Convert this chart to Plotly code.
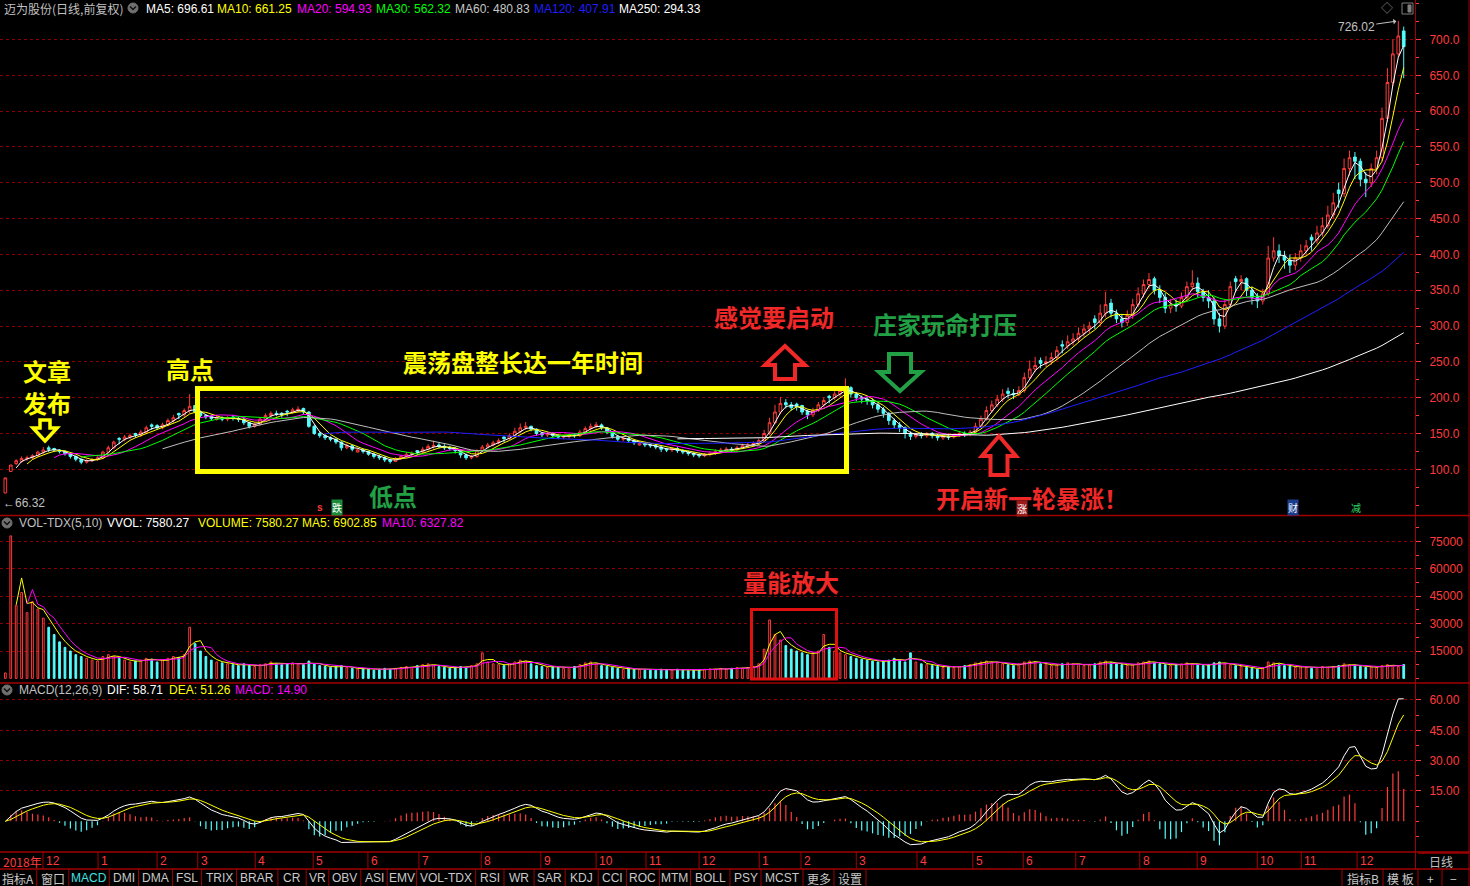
import numpy as np
import pandas as pd
import plotly.graph_objects as go

W, H = 1470, 886
PR = 1415  # right edge of the plotting area in px

# ---------------- data (each candle = 2 trading days) ----------------
opens = [
    67, 97, 108, 111, 115, 116, 119, 124, 130, 129,
    127, 125, 122, 118, 114, 110, 112, 114, 116, 124,
    130, 143, 142, 145, 150, 148, 152, 162, 161, 158,
    162, 168, 178, 176, 182, 189, 180, 175, 174, 170,
    172, 170, 173, 171, 170, 165, 160, 163, 170, 175,
    178, 178, 181, 180, 182, 185, 180, 160, 150, 147,
    144, 142, 138, 130, 133, 124, 127, 125, 121, 118,
    116, 113, 111, 115, 118, 121, 126, 124, 128, 132,
    134, 132, 130, 129, 126, 120, 116, 118, 126, 131,
    134, 137, 145, 143, 147, 153, 158, 160, 156, 150,
    148, 150, 147, 145, 146, 148, 147, 152, 157, 160,
    162, 158, 152, 146, 142, 143, 140, 134, 136, 134,
    133, 131, 128, 127, 129, 126, 124, 122, 120, 119,
    121, 122, 125, 127, 128, 127, 130, 133, 134, 136,
    140, 150, 165, 180, 193, 190, 191, 189, 181, 176,
    182, 190, 202, 200, 205, 210, 214, 205, 200, 198,
    196, 190, 184, 178, 168, 162, 158, 150, 146, 149,
    147, 150, 147, 144, 146, 145, 148, 150, 149, 152,
    160, 170, 182, 190, 198, 209, 206, 204, 210, 228,
    240, 252, 248, 250, 256, 274, 272, 278, 282, 290,
    296, 310, 305, 318, 332, 318, 310, 305, 315, 330,
    345, 358, 366, 350, 340, 325, 330, 328, 340, 355,
    360, 348, 340, 335, 310, 300, 330, 366, 362, 366,
    350, 340, 335, 345, 395, 405, 398, 392, 385, 395,
    405, 424, 420, 430, 440, 455, 490, 485, 520, 536,
    530, 505, 500, 520, 535, 590, 640, 680, 712,
]
highs = [
    88, 106, 114, 118, 119, 121, 126, 131, 133, 130,
    128, 126, 123, 119, 115, 114, 116, 118, 126, 133,
    140, 145, 148, 150, 151, 155, 161, 164, 163, 165,
    171, 176, 179, 185, 205, 190, 182, 177, 176, 175,
    174, 174, 176, 173, 172, 166, 165, 173, 178, 181,
    182, 180, 183, 186, 188, 186, 181, 162, 153, 149,
    146, 143, 139, 136, 134, 130, 129, 126, 123, 120,
    118, 115, 117, 120, 124, 125, 127, 131, 135, 140,
    137, 135, 133, 131, 127, 122, 120, 128, 134, 137,
    140, 143, 146, 150, 158, 164, 166, 161, 157, 152,
    152, 152, 149, 148, 150, 150, 155, 160, 164, 166,
    164, 159, 153, 148, 146, 145, 142, 139, 138, 136,
    135, 133, 130, 131, 131, 128, 126, 124, 122, 123,
    125, 128, 130, 131, 131, 133, 136, 137, 139, 143,
    155, 172, 190, 201, 198, 194, 193, 190, 183, 186,
    194, 200, 204, 209, 215, 227, 216, 208, 203, 201,
    199, 193, 187, 180, 171, 166, 160, 153, 151, 152,
    152, 152, 149, 148, 149, 150, 153, 153, 155, 165,
    175, 188, 196, 204, 212, 214, 212, 216, 235, 252,
    257, 256, 258, 263, 272, 280, 287, 290, 298, 303,
    306, 315, 330, 348, 338, 323, 317, 322, 338, 354,
    365, 374, 369, 357, 346, 338, 337, 347, 362, 378,
    368, 352, 350, 340, 318, 338, 362, 370, 371, 368,
    355, 346, 352, 412, 424, 414, 405, 400, 402, 414,
    420, 428, 440, 452, 468, 486, 500, 534, 545, 543,
    534, 515, 527, 545, 605, 660, 700, 726.02, 718,
]
lows = [
    66.32, 97, 106, 109, 112, 114, 117, 121, 124, 124,
    122, 119, 115, 111, 107, 108, 110, 112, 114, 122,
    128, 135, 139, 142, 144, 145, 149, 155, 155, 156,
    160, 165, 170, 173, 178, 178, 172, 170, 168, 168,
    167, 167, 168, 166, 162, 157, 158, 161, 167, 172,
    174, 172, 174, 178, 180, 177, 158, 148, 144, 141,
    139, 135, 126, 128, 125, 124, 122, 119, 115, 113,
    110, 108, 110, 113, 116, 118, 120, 122, 126, 129,
    129, 127, 126, 122, 116, 113, 114, 116, 124, 129,
    132, 135, 138, 141, 145, 150, 155, 153, 147, 145,
    145, 144, 142, 142, 143, 144, 145, 149, 154, 157,
    155, 149, 143, 139, 139, 137, 134, 133, 131, 130,
    128, 124, 124, 124, 123, 121, 119, 117, 116, 117,
    118, 120, 123, 124, 124, 125, 128, 130, 132, 134,
    138, 148, 163, 177, 185, 182, 182, 176, 170, 173,
    180, 187, 192, 197, 201, 205, 200, 195, 192, 190,
    185, 179, 172, 162, 157, 152, 143, 141, 143, 143,
    144, 143, 140, 141, 141, 143, 145, 145, 146, 150,
    158, 168, 179, 187, 194, 199, 198, 202, 207, 225,
    236, 241, 243, 246, 252, 262, 268, 273, 278, 285,
    290, 296, 300, 312, 312, 304, 298, 300, 310, 326,
    340, 352, 344, 332, 318, 318, 320, 325, 336, 350,
    340, 334, 325, 302, 291, 296, 326, 348, 350, 342,
    330, 325, 330, 342, 390, 388, 380, 374, 378, 390,
    398, 405, 415, 425, 436, 450, 465, 480, 510, 505,
    495, 480, 494, 512, 530, 585, 635, 675, 646,
]
closes = [
    88, 106, 112, 115, 116, 119, 124, 127, 128, 127,
    125, 122, 118, 114, 110, 112, 114, 116, 124, 130,
    138, 142, 145, 147, 148, 152, 158, 160, 158, 162,
    168, 172, 176, 182, 188, 180, 175, 173, 171, 172,
    170, 172, 171, 170, 165, 160, 163, 170, 175, 178,
    177, 176, 180, 183, 184, 180, 160, 150, 147, 144,
    142, 138, 130, 133, 128, 127, 125, 121, 118, 116,
    113, 111, 115, 118, 121, 122, 124, 128, 132, 133,
    132, 130, 129, 126, 120, 116, 118, 126, 131, 134,
    137, 140, 143, 147, 153, 158, 160, 156, 150, 148,
    150, 147, 145, 146, 148, 147, 152, 157, 160, 162,
    158, 152, 146, 142, 143, 140, 137, 136, 134, 133,
    131, 128, 127, 129, 126, 124, 122, 120, 119, 121,
    122, 125, 127, 128, 127, 130, 133, 134, 136, 140,
    150, 165, 180, 192, 190, 186, 188, 180, 176, 182,
    190, 196, 200, 205, 210, 214, 205, 200, 198, 196,
    190, 184, 178, 168, 162, 158, 150, 146, 149, 147,
    150, 147, 144, 146, 145, 148, 150, 149, 152, 160,
    170, 182, 190, 198, 205, 206, 204, 210, 228, 240,
    245, 248, 250, 256, 266, 272, 278, 282, 290, 296,
    300, 305, 318, 330, 318, 310, 305, 315, 330, 345,
    358, 365, 350, 340, 325, 330, 328, 340, 355, 360,
    348, 340, 335, 310, 300, 330, 355, 362, 365, 350,
    340, 335, 345, 395, 405, 398, 392, 385, 395, 405,
    412, 420, 430, 440, 455, 472, 485, 520, 535, 530,
    505, 500, 520, 535, 590, 640, 680, 705, 690,
]
volumes = [
    3000, 78000, 40000, 47000, 36000, 42000, 38000, 33000, 28000, 24000,
    20000, 17000, 15000, 13000, 12000, 11000, 10000, 9500, 12000, 13000,
    12000, 11000, 10000, 9000, 9500, 10000, 11000, 10500, 9000, 10000,
    11000, 12000, 11500, 13000, 28000, 19000, 15000, 12000, 10000, 9000,
    8500, 8000, 7500, 7000, 8000, 7000, 6500, 7500, 8000, 9000,
    8000, 7500, 8000, 8500, 8000, 7500, 9500, 8000, 7000, 6500,
    6000, 6500, 7000, 6000, 5500, 5000, 5500, 5000, 4500, 5000,
    5500, 5000, 5500, 6000, 6500, 6000, 7000, 7500, 8000, 7000,
    6500, 6000, 5500, 6000, 6500, 6000, 7000, 8000, 14000, 9000,
    8000, 7500, 7000, 8000, 9000, 10000, 9500, 8000, 7000, 6500,
    6000, 6500, 6000, 5500, 6000, 6500, 7500, 8500, 9000, 8000,
    7000, 6500, 6000, 5500, 5000, 5500, 5000, 4800, 4500, 4800,
    4500, 5000, 4800, 4500, 5000, 4500, 4200, 4500, 4800, 5000,
    5200, 5000, 5500, 5000, 5500, 6000, 5500, 6000, 6500, 8000,
    16000, 32000, 24000, 21000, 18000, 16000, 15000, 14000, 13000, 14000,
    15000, 24000, 17000, 15000, 14000, 13000, 12000, 11000, 10500, 10000,
    9500, 9000, 9500, 10000, 11000, 10000, 9000, 14000, 9000, 8000,
    7500, 7000, 6500, 6000, 6500, 6000, 6500, 7000, 7500, 8500,
    9000, 9500, 9000, 8500, 8000, 7500, 7000, 8000, 9000, 9500,
    9000, 8000, 7500, 7000, 7500, 8000, 8500, 8000, 7500, 7000,
    7500, 8000, 9000, 9500, 8500, 8000, 7500, 7000, 7500, 8500,
    9000, 9500, 8500, 8000, 7500, 7000, 7500, 8000, 8500, 8000,
    7500, 7000, 7500, 8500, 9000, 8000, 7500, 7000, 6500, 6000,
    5500, 5000, 6000, 9000, 8500, 7500, 7000, 6500, 6000, 6500,
    6000, 5500, 6000, 6500, 6000, 6500, 7000, 8000, 7500, 7000,
    6500, 6000, 6500, 6000, 7000, 7500, 7000, 6500, 7580,
]

# month ticks of the date bar (position in candle units) and their labels
month_pos = [6.95, 17.1, 28.0, 35.5, 46.1, 56.8, 66.9, 76.3, 87.8, 98.8, 109.0, 118.2, 128.0,
             139.1, 146.8, 157.0, 168.2, 178.5, 187.8, 197.5, 209.3, 219.9, 231.0, 239.1, 249.4]
month_labels = ["12", "1", "2", "3", "4", "5", "6", "7", "8", "9", "10", "11", "12",
                "1", "2", "3", "4", "5", "6", "7", "8", "9", "10", "11", "12"]

price_ticks = list(range(100, 701, 50))
vol_ticks = [15000, 30000, 45000, 60000, 75000]
macd_ticks = [15, 30, 45, 60]

ma_names = ["MA5", "MA10", "MA20", "MA30", "MA60", "MA120", "MA250"]
ma_days = [5, 10, 20, 30, 60, 120, 250]
ma_header_vals = [696.61, 661.25, 594.93, 562.32, 480.83, 407.91, 294.33]
vol_header_vals = [7580.27, 7580.27, 6902.85, 6327.82]
macd_header_vals = [58.71, 51.26, 14.90]

tab_labels = ["指标A", "窗口", "MACD", "DMI", "DMA", "FSL", "TRIX", "BRAR", "CR", "VR", "OBV", "ASI",
              "EMV", "VOL-TDX", "RSI", "WR", "SAR", "KDJ", "CCI", "ROC", "MTM", "BOLL", "PSY", "MCST",
              "更多", "设置"]

# ---------------- styling ----------------
DAYS_PER_BAR = 2
RED = "#FF3B3B"
SEP = "#A00000"
GRID = "#8C0000"
CYAN = "#54FCFC"
GREY = "#C0C0C0"
FONT = "Liberation Sans, Arial, Noto Sans CJK SC, sans-serif"
CJK = "Noto Sans CJK SC, sans-serif"
ma_colors = ["#FFFFFF", "#FFFF00", "#FF00FF", "#00FF00", "#BEBEBE", "#1E1EFF", "#FFFFFF"]

n = len(closes)
idx = list(range(n))
cs = pd.Series(closes, dtype=float)


def win(days):
    return int(np.ceil(days / DAYS_PER_BAR))


def ema_alpha(days):
    return 1 - (1 - 2.0 / (days + 1)) ** DAYS_PER_BAR


fig = go.Figure()

# ---- price panel ----
fig.add_trace(go.Candlestick(
    x=idx, open=opens, high=highs, low=lows, close=closes,
    increasing=dict(line=dict(color=RED, width=1), fillcolor="#000000"),
    decreasing=dict(line=dict(color=CYAN, width=1), fillcolor=CYAN),
    whiskerwidth=0, hoverinfo="skip", showlegend=False, xaxis="x", yaxis="y"))
for name, d, col in zip(ma_names, ma_days, ma_colors):
    fig.add_trace(go.Scatter(x=idx, y=cs.rolling(win(d)).mean(), mode="lines",
                             line=dict(color=col, width=1), hoverinfo="skip",
                             showlegend=False, xaxis="x", yaxis="y"))

# ---- volume panel ----
up = [c >= o for o, c in zip(opens, closes)]
fig.add_trace(go.Bar(
    x=idx, y=volumes, width=0.32,
    marker=dict(color=["rgba(0,0,0,0)" if u else CYAN for u in up],
                line=dict(color=[RED if u else CYAN for u in up], width=1)),
    hoverinfo="skip", showlegend=False, xaxis="x", yaxis="y2"))
vs = pd.Series(volumes, dtype=float)
for d, col in [(5, "#FFFF00"), (10, "#FF00FF")]:
    fig.add_trace(go.Scatter(x=idx, y=vs.rolling(win(d)).mean(), mode="lines",
                             line=dict(color=col, width=1), hoverinfo="skip",
                             showlegend=False, xaxis="x", yaxis="y2"))

# ---- MACD panel ----
ema_fast = cs.ewm(alpha=ema_alpha(12), adjust=False).mean()
ema_slow = cs.ewm(alpha=ema_alpha(26), adjust=False).mean()
dif = ema_fast - ema_slow
dea = dif.ewm(alpha=ema_alpha(9), adjust=False).mean()
macd = 2 * (dif - dea)
fig.add_trace(go.Bar(x=idx, y=macd, width=0.22,
                     marker=dict(color=[RED if v >= 0 else CYAN for v in macd], line=dict(width=0)),
                     hoverinfo="skip", showlegend=False, xaxis="x", yaxis="y3"))
fig.add_trace(go.Scatter(x=idx, y=dif, mode="lines", line=dict(color="#FFFFFF", width=1),
                         hoverinfo="skip", showlegend=False, xaxis="x", yaxis="y3"))
fig.add_trace(go.Scatter(x=idx, y=dea, mode="lines", line=dict(color="#FFFF00", width=1),
                         hoverinfo="skip", showlegend=False, xaxis="x", yaxis="y3"))


# ---------------- axes ----------------
def yax(dom_px, rng, tickvals, fmt, minor_dtick):
    return dict(
        domain=[1 - dom_px[1] / H, 1 - dom_px[0] / H], range=rng, side="right", anchor="x",
        tickmode="array", tickvals=tickvals, ticktext=[format(v, fmt) for v in tickvals],
        tickfont=dict(color=RED, size=12, family=FONT), ticks="outside", ticklen=5,
        tickcolor=RED, ticklabelstandoff=6, showline=True, linecolor=SEP, linewidth=1,
        showgrid=True, gridcolor=GRID, griddash="dot", gridwidth=1, zeroline=False,
        fixedrange=True,
        minor=dict(ticks="outside", ticklen=3, tickcolor=RED, dtick=minor_dtick, showgrid=False))


x_lo = -5.35 / 5.42
x_hi = (PR - 5.35) / 5.42

fig.update_layout(
    width=W, height=H, margin=dict(l=0, r=0, t=0, b=0),
    paper_bgcolor="#000000", plot_bgcolor="#000000", showlegend=False,
    barmode="overlay",
    xaxis=dict(domain=[0, PR / W], range=[x_lo, x_hi], visible=False,
               rangeslider=dict(visible=False), fixedrange=True),
    yaxis=yax((2, 515), [36.2, 752.4], price_ticks, ".1f", 25),
    yaxis2=yax((517, 682), [-1971, 88357], vol_ticks, "d", 7500),
    yaxis3=yax((685, 851), [-14.69, 67.41], macd_ticks, ".2f", 7.5),
)

# ---------------- helpers for decorations ----------------
def px(x):
    return x / W


def py(y):
    return 1 - y / H


annotations = []
shapes = []


def text(x, y, s, color, size=12, family=FONT, anchor="left", bold=False, bg=None):
    d = dict(xref="paper", yref="paper", x=px(x), y=py(y), text=("<b>%s</b>" % s) if bold else s,
             showarrow=False, xanchor=anchor, yanchor="middle",
             font=dict(color=color, size=size, family=family))
    if bg:
        d.update(bgcolor=bg, borderpad=0)
    annotations.append(d)


def line(x0, y0, x1, y1, color=SEP, width=1):
    shapes.append(dict(type="line", xref="paper", yref="paper", x0=px(x0), y0=py(y0),
                       x1=px(x1), y1=py(y1), line=dict(color=color, width=width)))


def rect(x0, y0, x1, y1, color, width, fill="rgba(0,0,0,0)"):
    shapes.append(dict(type="rect", xref="paper", yref="paper", x0=px(x0), y0=py(y0),
                       x1=px(x1), y1=py(y1), line=dict(color=color, width=width), fillcolor=fill))


def arrow(cx, top, bottom, w, shaft, head, color, width, down=False):
    if not down:
        pts = [(cx, top), (cx + w / 2, top + head), (cx + shaft / 2, top + head),
               (cx + shaft / 2, bottom), (cx - shaft / 2, bottom), (cx - shaft / 2, top + head),
               (cx - w / 2, top + head)]
    else:
        pts = [(cx, bottom), (cx + w / 2, bottom - head), (cx + shaft / 2, bottom - head),
               (cx + shaft / 2, top), (cx - shaft / 2, top), (cx - shaft / 2, bottom - head),
               (cx - w / 2, bottom - head)]
    path = "M " + " L ".join("%.5f,%.5f" % (px(a), py(b)) for a, b in pts) + " Z"
    shapes.append(dict(type="path", xref="paper", yref="paper", path=path,
                       line=dict(color=color, width=width), fillcolor="#000000"))


# ---------------- headers ----------------
text(2, 9, "迈为股份(日线,前复权)", GREY, size=12, family=CJK)
ma_x = [144, 215, 295, 374, 453, 532, 617]
hdr_cols = ["#FFFFFF", "#FFFF00", "#FF00FF", "#00FF00", "#C8C8C8", "#1E1EFF", "#FFFFFF"]
for xx, nm, v, c in zip(ma_x, ma_names, ma_header_vals, hdr_cols):
    text(xx, 9, "%s: %.2f" % (nm, v), c)

vol_items = [(17, "VOL-TDX(5,10)", GREY), (105, "VVOL: %.2f" % vol_header_vals[0], "#FFFFFF"),
             (196, "VOLUME: %.2f" % vol_header_vals[1], "#FFFF00"),
             (300, "MA5: %.2f" % vol_header_vals[2], "#FFFF00"),
             (380, "MA10: %.2f" % vol_header_vals[3], "#FF00FF")]
for xx, s, c in vol_items:
    text(xx, 523, s, c)
macd_items = [(17, "MACD(12,26,9)", GREY), (105, "DIF: %.2f" % macd_header_vals[0], "#FFFFFF"),
              (167, "DEA: %.2f" % macd_header_vals[1], "#FFFF00"),
              (233, "MACD: %.2f" % macd_header_vals[2], "#FF00FF")]
for xx, s, c in macd_items:
    text(xx, 690, s, c)

# small round icons in the headers
for cx, cy in [(133, 8), (7, 523), (7, 690)]:
    shapes.append(dict(type="circle", xref="paper", yref="paper", x0=px(cx - 5), x1=px(cx + 5),
                       y0=py(cy + 5), y1=py(cy - 5), line=dict(color="#707070", width=1),
                       fillcolor="#707070"))
    shapes.append(dict(type="path", xref="paper", yref="paper",
                       path="M %.5f,%.5f L %.5f,%.5f L %.5f,%.5f" % (
                           px(cx - 3), py(cy - 1.5), px(cx), py(cy + 1.5), px(cx + 3), py(cy - 1.5)),
                       line=dict(color="#101010", width=1.5)))

# top right small icons
text(1387, 9, "◇", "#808080", size=12, anchor="center")
rect(1402, 3, 1413, 14, "#808080", 1)
rect(1408, 5, 1411, 12, "#808080", 1, fill="#808080")

# ---------------- frame / separators ----------------
for yy in [515.5, 683, 852, 869]:
    line(0, yy, W, yy, SEP, 1.5)
line(PR + 0.5, 0, PR + 0.5, 869, SEP, 1)
line(1469, 0, 1469, 886, SEP, 1)

# ---------------- date bar ----------------
text(1, 861, "2018年", RED, size=12, family=CJK)
for pos, lab in zip(month_pos, month_labels):
    shapes.append(dict(type="line", xref="x", yref="paper", x0=pos, x1=pos, y0=py(852), y1=py(869),
                       line=dict(color=SEP, width=1)))
    annotations.append(dict(xref="x", yref="paper", x=pos, y=py(861), text=lab, showarrow=False,
                            xanchor="left", yanchor="middle", xshift=1,
                            font=dict(color=RED, size=12, family=FONT)))
text(1441, 861, "日线", GREY, size=12, family=CJK, anchor="center")
line(1418, 853, 1469, 853, SEP, 1.5)

# ---------------- tab bar ----------------
tab_seps = [36.7, 68.8, 109.3, 138.5, 172.4, 201.6, 236.5, 277.9, 306.2, 328.8, 360.8, 387.2, 416.4,
            475.7, 504, 534.1, 565.2, 598.2, 626.4, 659.4, 690.5, 730, 761, 803, 834, 866]
left = 0
for lab, right in zip(tab_labels, tab_seps):
    text((left + right) / 2, 878, lab, "#40E0E0" if lab == "MACD" else "#C8C8C8", size=12,
         family=FONT if lab.isascii() else CJK, anchor="center")
    line(right, 869, right, 886, SEP, 1)
    left = right
for lab, l0, r0 in [("指标B", 1342, 1383), ("模 板", 1383, 1418), ("+", 1418, 1442), ("−", 1442, 1465)]:
    text((l0 + r0) / 2, 878, lab, "#C8C8C8", size=12, family=CJK, anchor="center")
    line(l0, 869, l0, 886, SEP, 1)

# ---------------- extreme value marks ----------------
imax = int(np.argmax(highs))
imin = int(np.argmin(lows))
annotations.append(dict(xref="x", yref="y", x=imax, y=highs[imax], text="%.2f" % highs[imax],
                        showarrow=True, arrowhead=1, arrowsize=1, arrowwidth=1, arrowcolor=GREY,
                        ax=-42, ay=6, standoff=2, font=dict(color=GREY, size=12, family=FONT)))
annotations.append(dict(xref="x", yref="y", x=imin, y=lows[imin], text="←%.2f" % lows[imin],
                        showarrow=False, xanchor="left", yanchor="top", xshift=-4, yshift=-1,
                        font=dict(color=GREY, size=12, family=FONT)))

# small event icons at the bottom of the price panel
text(320, 507, "s", RED, size=10, family=FONT, anchor="center", bold=True)
text(337, 507, "跌", "#FFFFFF", size=10, family=CJK, anchor="center", bg="#1C8C3C")
text(1022, 508, "涨", "#FFFFFF", size=10, family=CJK, anchor="center", bg="#9C1C1C")
text(1293, 507, "财", "#FFFFFF", size=10, family=CJK, anchor="center", bg="#1C3C8C")
text(1356, 507, "减", "#30D060", size=10, family=CJK, anchor="center")

# ---------------- hand-drawn commentary ----------------
YEL = "#FFFF00"
RD = "#F02828"
GR = "#22A045"
text(47, 370, "文章", YEL, size=24, family=CJK, anchor="center", bold=True)
text(47, 402, "发布", YEL, size=24, family=CJK, anchor="center", bold=True)
text(190, 368, "高点", YEL, size=24, family=CJK, anchor="center", bold=True)
text(523, 361, "震荡盘整长达一年时间", YEL, size=24, family=CJK, anchor="center", bold=True)
text(393, 495, "低点", GR, size=24, family=CJK, anchor="center", bold=True)
text(774, 316, "感觉要启动", RD, size=24, family=CJK, anchor="center", bold=True)
text(945, 323, "庄家玩命打压", GR, size=24, family=CJK, anchor="center", bold=True)
text(1032, 498, "开启新一轮暴涨！", RD, size=24, family=CJK, anchor="center", bold=True)
text(791, 581, "量能放大", RD, size=24, family=CJK, anchor="center", bold=True)

rect(197.5, 388.5, 846.5, 471.5, YEL, 5)
rect(751.5, 609.5, 836.5, 679, "#E01010", 3)

arrow(45, 420, 441, 24, 10, 13, YEL, 3.5, down=True)
arrow(785, 346, 379, 40, 20, 19, RD, 4)
arrow(900, 354, 391, 42, 22, 19, GR, 4, down=True)
arrow(999, 436, 475, 34, 17, 20, RD, 4)

fig.update_layout(annotations=annotations, shapes=shapes)
fig.write_html("out.html",
               config={"displayModeBar": False, "staticPlot": True},
               post_script="document.body.style.margin='0px';document.body.style.padding='0px';"
                           "document.body.style.overflow='hidden';")
